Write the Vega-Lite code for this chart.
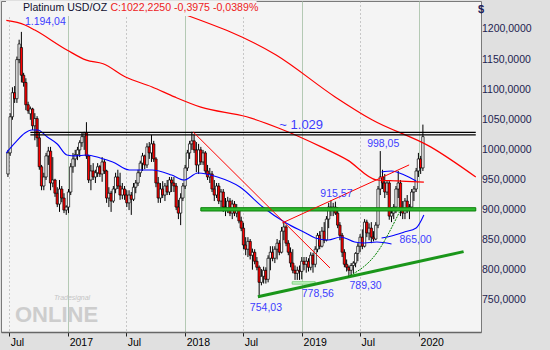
{
"$schema": "https://vega.github.io/schema/vega-lite/v6.json",
"width": 480, "height": 331,
"autosize": {"type": "none"},
"padding": {"left": 1, "top": 1, "right": 69, "bottom": 18},
"background": "#e0e0e0",
"config": {"view": {"fill": "#f4f4f4", "stroke": "#7a7a7a", "strokeWidth": 1}, "font": "Liberation Sans"},
"datasets": {
"candles": [
{"date":"2016-06-27","o":960,"h":1000,"l":955,"c":995},
{"date":"2016-07-04","o":995,"h":1061,"l":990,"c":1055},
{"date":"2016-07-11","o":1055,"h":1104,"l":1050,"c":1095},
{"date":"2016-07-18","o":1095,"h":1106,"l":1078,"c":1085},
{"date":"2016-07-25","o":1085,"h":1155,"l":1078,"c":1150},
{"date":"2016-08-01","o":1150,"h":1183,"l":1144,"c":1176},
{"date":"2016-08-08","o":1170,"h":1196,"l":1112,"c":1124},
{"date":"2016-08-15","o":1124,"h":1128,"l":1105,"c":1112},
{"date":"2016-08-22","o":1112,"h":1119,"l":1066,"c":1075},
{"date":"2016-08-29","o":1075,"h":1080,"l":1060,"c":1065},
{"date":"2016-09-05","o":1060,"h":1072,"l":1050,"c":1068},
{"date":"2016-09-12","o":1068,"h":1070,"l":1033,"c":1040},
{"date":"2016-09-19","o":1040,"h":1061,"l":1016,"c":1052},
{"date":"2016-09-26","o":1052,"h":1056,"l":1005,"c":1020},
{"date":"2016-10-03","o":1020,"h":1028,"l":967,"c":972},
{"date":"2016-10-10","o":972,"h":975,"l":933,"c":940},
{"date":"2016-10-17","o":940,"h":962,"l":933,"c":955},
{"date":"2016-10-24","o":955,"h":995,"l":950,"c":990},
{"date":"2016-10-31","o":990,"h":1005,"l":975,"c":998},
{"date":"2016-11-07","o":998,"h":1005,"l":933,"c":945},
{"date":"2016-11-14","o":945,"h":988,"l":938,"c":950},
{"date":"2016-11-21","o":950,"h":952,"l":922,"c":928},
{"date":"2016-11-28","o":928,"h":938,"l":905,"c":910},
{"date":"2016-12-05","o":910,"h":950,"l":897,"c":935},
{"date":"2016-12-12","o":935,"h":940,"l":913,"c":920},
{"date":"2016-12-19","o":920,"h":928,"l":895,"c":900},
{"date":"2016-12-26","o":900,"h":908,"l":892,"c":905},
{"date":"2017-01-02","o":905,"h":935,"l":895,"c":930},
{"date":"2017-01-09","o":930,"h":978,"l":925,"c":972},
{"date":"2017-01-16","o":972,"h":995,"l":962,"c":985},
{"date":"2017-01-23","o":985,"h":1000,"l":972,"c":992},
{"date":"2017-01-30","o":992,"h":1005,"l":983,"c":1000},
{"date":"2017-02-06","o":1000,"h":1016,"l":988,"c":1012},
{"date":"2017-02-13","o":1012,"h":1028,"l":1005,"c":1022},
{"date":"2017-02-20","o":1022,"h":1030,"l":1000,"c":1028},
{"date":"2017-02-27","o":1028,"h":1046,"l":985,"c":990},
{"date":"2017-03-06","o":990,"h":992,"l":945,"c":950},
{"date":"2017-03-13","o":950,"h":975,"l":933,"c":965},
{"date":"2017-03-20","o":965,"h":978,"l":950,"c":955},
{"date":"2017-03-27","o":955,"h":967,"l":945,"c":962},
{"date":"2017-04-03","o":962,"h":978,"l":955,"c":972},
{"date":"2017-04-10","o":972,"h":975,"l":955,"c":960},
{"date":"2017-04-17","o":960,"h":988,"l":947,"c":980},
{"date":"2017-04-24","o":980,"h":985,"l":960,"c":965},
{"date":"2017-05-01","o":965,"h":967,"l":912,"c":920},
{"date":"2017-05-08","o":920,"h":938,"l":905,"c":928},
{"date":"2017-05-15","o":928,"h":932,"l":897,"c":915},
{"date":"2017-05-22","o":915,"h":940,"l":912,"c":935},
{"date":"2017-05-29","o":935,"h":962,"l":928,"c":955},
{"date":"2017-06-05","o":955,"h":967,"l":935,"c":940},
{"date":"2017-06-12","o":940,"h":962,"l":917,"c":925},
{"date":"2017-06-19","o":925,"h":945,"l":918,"c":935},
{"date":"2017-06-26","o":935,"h":940,"l":917,"c":925},
{"date":"2017-07-03","o":925,"h":933,"l":905,"c":912},
{"date":"2017-07-10","o":912,"h":933,"l":900,"c":925},
{"date":"2017-07-17","o":925,"h":930,"l":892,"c":918},
{"date":"2017-07-24","o":918,"h":945,"l":915,"c":938},
{"date":"2017-07-31","o":938,"h":950,"l":928,"c":945},
{"date":"2017-08-07","o":945,"h":967,"l":940,"c":962},
{"date":"2017-08-14","o":962,"h":982,"l":955,"c":978},
{"date":"2017-08-21","o":978,"h":995,"l":965,"c":990},
{"date":"2017-08-28","o":990,"h":992,"l":968,"c":975},
{"date":"2017-09-04","o":975,"h":1011,"l":970,"c":1005},
{"date":"2017-09-11","o":1005,"h":1013,"l":985,"c":995},
{"date":"2017-09-18","o":995,"h":1025,"l":980,"c":1010},
{"date":"2017-09-25","o":1010,"h":1015,"l":980,"c":985},
{"date":"2017-10-02","o":985,"h":988,"l":938,"c":945},
{"date":"2017-10-09","o":945,"h":955,"l":912,"c":920},
{"date":"2017-10-16","o":920,"h":945,"l":912,"c":935},
{"date":"2017-10-23","o":935,"h":948,"l":920,"c":925},
{"date":"2017-10-30","o":925,"h":945,"l":915,"c":940},
{"date":"2017-11-06","o":940,"h":950,"l":925,"c":930},
{"date":"2017-11-13","o":930,"h":955,"l":925,"c":950},
{"date":"2017-11-20","o":950,"h":955,"l":930,"c":945},
{"date":"2017-11-27","o":945,"h":955,"l":930,"c":940},
{"date":"2017-12-04","o":940,"h":945,"l":900,"c":905},
{"date":"2017-12-11","o":905,"h":917,"l":885,"c":895},
{"date":"2017-12-18","o":895,"h":928,"l":875,"c":920},
{"date":"2017-12-25","o":920,"h":945,"l":915,"c":940},
{"date":"2018-01-01","o":940,"h":975,"l":935,"c":970},
{"date":"2018-01-08","o":970,"h":1000,"l":965,"c":995},
{"date":"2018-01-15","o":995,"h":1015,"l":985,"c":1010},
{"date":"2018-01-22","o":1010,"h":1030,"l":1000,"c":1015},
{"date":"2018-01-29","o":1015,"h":1025,"l":995,"c":1000},
{"date":"2018-02-05","o":1000,"h":1013,"l":963,"c":975},
{"date":"2018-02-12","o":975,"h":1010,"l":960,"c":1000},
{"date":"2018-02-19","o":1000,"h":1005,"l":975,"c":980},
{"date":"2018-02-26","o":980,"h":1000,"l":975,"c":995},
{"date":"2018-03-05","o":995,"h":998,"l":960,"c":965},
{"date":"2018-03-12","o":965,"h":975,"l":950,"c":955},
{"date":"2018-03-19","o":955,"h":970,"l":945,"c":960},
{"date":"2018-03-26","o":960,"h":965,"l":930,"c":935},
{"date":"2018-04-02","o":935,"h":950,"l":915,"c":925},
{"date":"2018-04-09","o":925,"h":945,"l":920,"c":940},
{"date":"2018-04-16","o":940,"h":945,"l":910,"c":915},
{"date":"2018-04-23","o":915,"h":935,"l":905,"c":930},
{"date":"2018-04-30","o":930,"h":935,"l":897,"c":905},
{"date":"2018-05-07","o":905,"h":920,"l":890,"c":900},
{"date":"2018-05-14","o":900,"h":922,"l":895,"c":915},
{"date":"2018-05-21","o":915,"h":920,"l":890,"c":895},
{"date":"2018-05-28","o":895,"h":917,"l":885,"c":910},
{"date":"2018-06-04","o":910,"h":915,"l":890,"c":895},
{"date":"2018-06-11","o":895,"h":910,"l":888,"c":900},
{"date":"2018-06-18","o":900,"h":902,"l":878,"c":882},
{"date":"2018-06-25","o":882,"h":889,"l":865,"c":870},
{"date":"2018-07-02","o":870,"h":879,"l":835,"c":842},
{"date":"2018-07-09","o":842,"h":855,"l":825,"c":835},
{"date":"2018-07-16","o":835,"h":855,"l":822,"c":848},
{"date":"2018-07-23","o":848,"h":852,"l":818,"c":825},
{"date":"2018-07-30","o":825,"h":836,"l":801,"c":830},
{"date":"2018-08-06","o":830,"h":835,"l":810,"c":815},
{"date":"2018-08-13","o":815,"h":822,"l":800,"c":805},
{"date":"2018-08-20","o":805,"h":808,"l":754,"c":780},
{"date":"2018-08-27","o":780,"h":802,"l":775,"c":790},
{"date":"2018-09-03","o":790,"h":806,"l":778,"c":800},
{"date":"2018-09-10","o":800,"h":805,"l":778,"c":785},
{"date":"2018-09-17","o":785,"h":825,"l":780,"c":820},
{"date":"2018-09-24","o":820,"h":840,"l":800,"c":830},
{"date":"2018-10-01","o":830,"h":840,"l":815,"c":820},
{"date":"2018-10-08","o":820,"h":840,"l":812,"c":835},
{"date":"2018-10-15","o":835,"h":852,"l":818,"c":845},
{"date":"2018-10-22","o":845,"h":850,"l":825,"c":830},
{"date":"2018-10-29","o":830,"h":872,"l":828,"c":865},
{"date":"2018-11-05","o":865,"h":880,"l":850,"c":872},
{"date":"2018-11-12","o":872,"h":875,"l":840,"c":845},
{"date":"2018-11-19","o":845,"h":850,"l":825,"c":830},
{"date":"2018-11-26","o":830,"h":838,"l":805,"c":812},
{"date":"2018-12-03","o":812,"h":835,"l":795,"c":800},
{"date":"2018-12-10","o":800,"h":808,"l":784,"c":795},
{"date":"2018-12-17","o":795,"h":806,"l":784,"c":800},
{"date":"2018-12-24","o":800,"h":808,"l":784,"c":798},
{"date":"2018-12-31","o":798,"h":822,"l":785,"c":815},
{"date":"2019-01-07","o":815,"h":822,"l":800,"c":810},
{"date":"2019-01-14","o":810,"h":822,"l":796,"c":815},
{"date":"2019-01-21","o":815,"h":820,"l":798,"c":805},
{"date":"2019-01-28","o":805,"h":830,"l":800,"c":825},
{"date":"2019-02-04","o":825,"h":829,"l":796,"c":810},
{"date":"2019-02-11","o":810,"h":840,"l":805,"c":835},
{"date":"2019-02-18","o":835,"h":862,"l":830,"c":858},
{"date":"2019-02-25","o":858,"h":865,"l":835,"c":840},
{"date":"2019-03-04","o":840,"h":872,"l":838,"c":865},
{"date":"2019-03-11","o":865,"h":880,"l":845,"c":850},
{"date":"2019-03-18","o":850,"h":890,"l":848,"c":885},
{"date":"2019-03-25","o":885,"h":912,"l":870,"c":905},
{"date":"2019-04-01","o":905,"h":916,"l":890,"c":900},
{"date":"2019-04-08","o":900,"h":912,"l":890,"c":905},
{"date":"2019-04-15","o":905,"h":914,"l":892,"c":895},
{"date":"2019-04-22","o":895,"h":905,"l":870,"c":875},
{"date":"2019-04-29","o":875,"h":880,"l":850,"c":858},
{"date":"2019-05-06","o":858,"h":862,"l":822,"c":830},
{"date":"2019-05-13","o":830,"h":835,"l":805,"c":810},
{"date":"2019-05-20","o":810,"h":818,"l":798,"c":805},
{"date":"2019-05-27","o":805,"h":808,"l":789,"c":800},
{"date":"2019-06-03","o":800,"h":812,"l":790,"c":808},
{"date":"2019-06-10","o":808,"h":815,"l":795,"c":812},
{"date":"2019-06-17","o":812,"h":830,"l":805,"c":828},
{"date":"2019-06-24","o":828,"h":845,"l":815,"c":840},
{"date":"2019-07-01","o":840,"h":860,"l":830,"c":855},
{"date":"2019-07-08","o":855,"h":868,"l":835,"c":840},
{"date":"2019-07-15","o":840,"h":885,"l":838,"c":880},
{"date":"2019-07-22","o":880,"h":884,"l":855,"c":862},
{"date":"2019-07-29","o":862,"h":878,"l":850,"c":870},
{"date":"2019-08-05","o":870,"h":880,"l":845,"c":855},
{"date":"2019-08-12","o":855,"h":865,"l":848,"c":852},
{"date":"2019-08-19","o":852,"h":880,"l":850,"c":875},
{"date":"2019-08-26","o":875,"h":940,"l":870,"c":935},
{"date":"2019-09-02","o":935,"h":998,"l":925,"c":955},
{"date":"2019-09-09","o":955,"h":967,"l":935,"c":945},
{"date":"2019-09-16","o":945,"h":960,"l":920,"c":930},
{"date":"2019-09-23","o":930,"h":950,"l":925,"c":945},
{"date":"2019-09-30","o":945,"h":950,"l":884,"c":890},
{"date":"2019-10-07","o":890,"h":905,"l":880,"c":895},
{"date":"2019-10-14","o":895,"h":910,"l":885,"c":905},
{"date":"2019-10-21","o":905,"h":940,"l":895,"c":935},
{"date":"2019-10-28","o":935,"h":965,"l":920,"c":945},
{"date":"2019-11-04","o":945,"h":950,"l":890,"c":900},
{"date":"2019-11-11","o":900,"h":915,"l":885,"c":895},
{"date":"2019-11-18","o":895,"h":920,"l":885,"c":915},
{"date":"2019-11-25","o":915,"h":925,"l":895,"c":900},
{"date":"2019-12-02","o":900,"h":910,"l":885,"c":905},
{"date":"2019-12-09","o":905,"h":935,"l":900,"c":930},
{"date":"2019-12-16","o":930,"h":940,"l":915,"c":935},
{"date":"2019-12-23","o":935,"h":970,"l":930,"c":965},
{"date":"2019-12-30","o":965,"h":995,"l":955,"c":985},
{"date":"2020-01-06","o":985,"h":990,"l":960,"c":970},
{"date":"2020-01-13","o":970,"h":1042,"l":965,"c":1022}
],
"lines": [
{"s":"ma_red","date":"2016-06-22","v":1215},
{"s":"ma_red","date":"2016-08-19","v":1207.5},
{"s":"ma_red","date":"2016-09-19","v":1199},
{"s":"ma_red","date":"2016-12-28","v":1166},
{"s":"ma_red","date":"2017-02-27","v":1149},
{"s":"ma_red","date":"2017-04-20","v":1143},
{"s":"ma_red","date":"2017-06-29","v":1121},
{"s":"ma_red","date":"2017-09-20","v":1104.5},
{"s":"ma_red","date":"2017-11-29","v":1088},
{"s":"ma_red","date":"2018-02-19","v":1071},
{"s":"ma_red","date":"2018-07-12","v":1055},
{"s":"ma_red","date":"2018-10-21","v":1036},
{"s":"ma_red","date":"2019-03-02","v":1005},
{"s":"ma_red","date":"2019-05-23","v":983},
{"s":"ma_red","date":"2019-08-22","v":950},
{"s":"ma_red","date":"2019-10-23","v":948.5},
{"s":"ma_red","date":"2020-01-16","v":946.5},
{"s":"r2","date":"2018-01-04","v":1224},
{"s":"r2","date":"2018-10-12","v":1157.6},
{"s":"r2","date":"2019-04-14","v":1088},
{"s":"r2","date":"2019-08-07","v":1050},
{"s":"r2","date":"2020-02-06","v":1005},
{"s":"r2","date":"2020-06-26","v":955},
{"s":"ma_blue","date":"2016-06-22","v":995},
{"s":"ma_blue","date":"2016-07-19","v":1011.5},
{"s":"ma_blue","date":"2016-08-19","v":1028},
{"s":"ma_blue","date":"2016-09-09","v":1033},
{"s":"ma_blue","date":"2016-09-28","v":1033},
{"s":"ma_blue","date":"2016-10-28","v":1021.4},
{"s":"ma_blue","date":"2016-11-28","v":1009.8},
{"s":"ma_blue","date":"2016-12-28","v":991.5},
{"s":"ma_blue","date":"2017-01-24","v":990},
{"s":"ma_blue","date":"2017-02-27","v":991.5},
{"s":"ma_blue","date":"2017-04-11","v":986.6},
{"s":"ma_blue","date":"2017-05-20","v":980},
{"s":"ma_blue","date":"2017-07-11","v":966.6},
{"s":"ma_blue","date":"2017-09-20","v":966.6},
{"s":"ma_blue","date":"2017-11-20","v":958.3},
{"s":"ma_blue","date":"2017-12-29","v":950},
{"s":"ma_blue","date":"2018-02-10","v":961.6},
{"s":"ma_blue","date":"2018-04-12","v":955},
{"s":"ma_blue","date":"2018-06-21","v":938.4},
{"s":"ma_blue","date":"2018-08-31","v":905.2},
{"s":"ma_blue","date":"2018-11-12","v":878.6},
{"s":"ma_blue","date":"2019-01-12","v":862},
{"s":"ma_blue","date":"2019-02-11","v":853.7},
{"s":"ma_blue","date":"2019-03-23","v":850.4},
{"s":"ma_blue","date":"2019-05-02","v":855.4},
{"s":"ma_blue","date":"2019-06-14","v":847},
{"s":"ma_blue","date":"2019-07-14","v":845.4},
{"s":"ma_blue","date":"2019-08-22","v":847},
{"s":"ma_blue","date":"2019-10-07","v":843.7},
{"s":"b_lo","date":"2019-09-06","v":853.7},
{"s":"b_lo","date":"2019-10-07","v":857},
{"s":"b_lo","date":"2019-11-16","v":863.6},
{"s":"b_lo","date":"2019-12-23","v":870.3},
{"s":"b_lo","date":"2020-01-16","v":891.9},
{"s":"b_up","date":"2019-09-06","v":963.3},
{"s":"b_up","date":"2019-10-07","v":965},
{"s":"b_up","date":"2019-11-16","v":958.3},
{"s":"b_up","date":"2019-12-23","v":948.4},
{"s":"blk1","date":"2016-09-05","v":1029},
{"s":"blk1","date":"2020-06-26","v":1029},
{"s":"blk2","date":"2016-09-05","v":1024.8},
{"s":"blk2","date":"2020-06-26","v":1024.8},
{"s":"g_tr","date":"2018-08-16","v":756},
{"s":"g_tr","date":"2020-05-19","v":831},
{"s":"r_dn","date":"2018-01-26","v":1029.8},
{"s":"r_dn","date":"2019-03-29","v":803.9},
{"s":"r_up","date":"2018-10-31","v":878.6},
{"s":"r_up","date":"2019-12-01","v":975},
{"s":"g_thin","date":"2019-05-23","v":789},
{"s":"g_thin","date":"2019-08-22","v":828.8},
{"s":"g_thin","date":"2019-11-01","v":896.9}
],
"rects": [
{"s":"gband","date":"2018-02-19","date2":"2020-06-26","v1":898.5,"v2":904},
{"s":"lgband","date":"2018-12-01","date2":"2019-02-11","v1":777,"v2":781},
{"s":"titlebox","date":"2016-06-21","date2":"2018-08-12","v1":1222.4,"v2":1247.3}
],
"labels": [
{"t":"1.194,04","date":"2016-08-19","v":1212},
{"t":"998,05","date":"2019-07-23","v":1009.8},
{"t":"915,57","date":"2019-02-27","v":926.8},
{"t":"865,00","date":"2019-11-01","v":850.4},
{"t":"789,30","date":"2019-05-29","v":773.1},
{"t":"778,56","date":"2018-12-31","v":760.7},
{"t":"754,03","date":"2018-07-22","v":737.4}
],
"ylab": [
{"t":"1200,0000","date":"2020-06-26T17:00:00Z","v":1200},
{"t":"1150,0000","date":"2020-06-26T17:00:00Z","v":1150},
{"t":"1100,0000","date":"2020-06-26T17:00:00Z","v":1100},
{"t":"1050,0000","date":"2020-06-26T17:00:00Z","v":1050},
{"t":"1000,0000","date":"2020-06-26T17:00:00Z","v":1000},
{"t":"950,0000","date":"2020-06-26T17:00:00Z","v":950},
{"t":"900,0000","date":"2020-06-26T17:00:00Z","v":900},
{"t":"850,0000","date":"2020-06-26T17:00:00Z","v":850},
{"t":"800,0000","date":"2020-06-26T17:00:00Z","v":800},
{"t":"750,0000","date":"2020-06-26T17:00:00Z","v":750}
],
"ytitle": [{"t":"$","date":"2020-06-26T17:00:00Z","v":1232.4}],
"biglabel": [{"t":"~ 1.029","date":"2018-10-22","v":1041.4}],
"title1": [{"t":"Platinum USD/OZ","date":"2016-08-13","v":1235.7}],
"title2": [{"t":"C:1022,2250 -0,3975 -0,0389%","date":"2017-05-13","v":1235.7}],
"wm1": [{"t":"ONLINE","date":"2016-07-19","v":726}],
"wm2": [{"t":"Tradesignal","date":"2016-11-18","v":754}]
},
"encoding": {
"x": {"field": "date", "type": "temporal",
 "scale": {"type": "utc", "domain": [{"year":2016,"month":6,"date":21,"utc":true},{"year":2020,"month":6,"date":26,"hours":17,"utc":true}]},
 "axis": {"title": null,
  "values": [{"year":2016,"month":7,"date":1,"utc":true},{"year":2017,"month":1,"date":1,"utc":true},{"year":2017,"month":7,"date":1,"utc":true},{"year":2018,"month":1,"date":1,"utc":true},{"year":2018,"month":7,"date":1,"utc":true},{"year":2019,"month":1,"date":1,"utc":true},{"year":2019,"month":7,"date":1,"utc":true},{"year":2020,"month":1,"date":1,"utc":true}],
  "labelExpr": "utcmonth(datum.value) == 0 ? utcFormat(datum.value, '%Y') : 'Jul'",
  "grid": true,
  "gridColor": {"condition": {"test": "utcmonth(datum.value) == 0", "value": "#b4c9b4"}, "value": "#9a9a9a"},
  "gridDash": {"condition": {"test": "utcmonth(datum.value) == 0", "value": []}, "value": [1, 3]},
  "labelAlign": "left", "labelOffset": 1, "labelPadding": 1, "labelFontSize": 10.5, "labelColor": "#000000", "labelFont": "Liberation Sans",
  "tickColor": "#222222", "tickSize": 4, "domain": true, "domainColor": "#666666", "domainWidth": 1.5,
  "labelOverlap": false, "labelBound": false, "labelFlush": false}
}
},
"layer": [
{"data": {"name": "candles"}, "mark": {"type": "rule", "color": "#000000", "strokeWidth": 1},
 "encoding": {
  "y": {"field": "l", "type": "quantitative", "scale": {"domain": [697.5, 1247.3], "zero": false, "nice": false},
   "axis": {"orient": "right", "title": null, "labels": false,
    "values": [750,800,850,900,950,1000,1050,1100,1150,1200],
    "tickColor": "#000000", "tickSize": 4,
    "domain": true, "domainColor": "#000000",
    "grid": true,
    "gridColor": {"condition": {"test": "datum.value % 250 == 0", "value": "#b4c9b4"}, "value": "#9a9a9a"},
    "gridDash": {"condition": {"test": "datum.value % 250 == 0", "value": []}, "value": [1, 3]}}},
  "y2": {"field": "h"}}},
{"data": {"name": "candles"}, "mark": {"type": "bar", "size": 2.3, "stroke": "#000000", "strokeWidth": 0.7},
 "encoding": {
  "y": {"field": "o", "type": "quantitative", "scale": {"domain": [697.5, 1247.3], "zero": false, "nice": false}, "axis": null},
  "y2": {"field": "c"},
  "fill": {"condition": {"test": "datum.c < datum.o", "value": "#ff0000"}, "value": "#ffffff"}}},
{"data": {"name": "wm1"}, "mark": {"type": "text", "align": "left", "baseline": "middle", "fontSize": 22, "fontWeight": "bold", "color": "#cdcdcd"},
 "encoding": {"y": {"field": "v", "type": "quantitative", "scale": {"domain": [697.5, 1247.3], "zero": false, "nice": false}, "axis": null}, "text": {"field": "t"}}},
{"data": {"name": "wm2"}, "mark": {"type": "text", "align": "left", "baseline": "middle", "fontSize": 7, "fontStyle": "italic", "color": "#c4c4c4"},
 "encoding": {"y": {"field": "v", "type": "quantitative", "scale": {"domain": [697.5, 1247.3], "zero": false, "nice": false}, "axis": null}, "text": {"field": "t"}}},
{"data": {"name": "lines"}, "transform": [{"filter": "datum.s == 'ma_red' || datum.s == 'r2'"}], "mark": {"type": "line", "color": "#ff0000", "strokeWidth": 1.2, "interpolate": "monotone"},
 "encoding": {"y": {"field": "v", "type": "quantitative", "scale": {"domain": [697.5, 1247.3], "zero": false, "nice": false}, "axis": null}, "detail": {"field": "s"}}},
{"data": {"name": "lines"}, "transform": [{"filter": "datum.s == 'ma_blue' || datum.s == 'b_lo' || datum.s == 'b_up'"}], "mark": {"type": "line", "color": "#0000ff", "strokeWidth": 1.1, "interpolate": "monotone"},
 "encoding": {"y": {"field": "v", "type": "quantitative", "scale": {"domain": [697.5, 1247.3], "zero": false, "nice": false}, "axis": null}, "detail": {"field": "s"}}},
{"data": {"name": "lines"}, "transform": [{"filter": "datum.s == 'blk1' || datum.s == 'blk2'"}], "mark": {"type": "line", "color": "#000000", "strokeWidth": 1.2},
 "encoding": {"y": {"field": "v", "type": "quantitative", "scale": {"domain": [697.5, 1247.3], "zero": false, "nice": false}, "axis": null}, "detail": {"field": "s"}}},
{"data": {"name": "rects"}, "transform": [{"filter": "datum.s == 'gband'"}], "mark": {"type": "rect", "fill": "#2eb82e", "stroke": "#0a800a", "strokeWidth": 1},
 "encoding": {"x2": {"field": "date2"}, "y": {"field": "v1", "type": "quantitative", "scale": {"domain": [697.5, 1247.3], "zero": false, "nice": false}, "axis": null}, "y2": {"field": "v2"}}},
{"data": {"name": "rects"}, "transform": [{"filter": "datum.s == 'lgband'"}], "mark": {"type": "rect", "fill": "#c8f5c8", "stroke": "#6ccc6c", "strokeWidth": 0.8},
 "encoding": {"x2": {"field": "date2"}, "y": {"field": "v1", "type": "quantitative", "scale": {"domain": [697.5, 1247.3], "zero": false, "nice": false}, "axis": null}, "y2": {"field": "v2"}}},
{"data": {"name": "lines"}, "transform": [{"filter": "datum.s == 'g_tr'"}], "mark": {"type": "line", "color": "#1a961a", "strokeWidth": 3},
 "encoding": {"y": {"field": "v", "type": "quantitative", "scale": {"domain": [697.5, 1247.3], "zero": false, "nice": false}, "axis": null}, "detail": {"field": "s"}}},
{"data": {"name": "lines"}, "transform": [{"filter": "datum.s == 'r_dn' || datum.s == 'r_up'"}], "mark": {"type": "line", "color": "#ff0000", "strokeWidth": 1},
 "encoding": {"y": {"field": "v", "type": "quantitative", "scale": {"domain": [697.5, 1247.3], "zero": false, "nice": false}, "axis": null}, "detail": {"field": "s"}}},
{"data": {"name": "lines"}, "transform": [{"filter": "datum.s == 'g_thin'"}], "mark": {"type": "line", "color": "#008000", "strokeWidth": 1, "strokeDash": [2, 1], "interpolate": "monotone"},
 "encoding": {"y": {"field": "v", "type": "quantitative", "scale": {"domain": [697.5, 1247.3], "zero": false, "nice": false}, "axis": null}, "detail": {"field": "s"}}},
{"data": {"name": "rects"}, "transform": [{"filter": "datum.s == 'titlebox'"}], "mark": {"type": "rect", "fill": "#f4f4f4"},
 "encoding": {"x2": {"field": "date2"}, "y": {"field": "v1", "type": "quantitative", "scale": {"domain": [697.5, 1247.3], "zero": false, "nice": false}, "axis": null}, "y2": {"field": "v2"}}},
{"data": {"name": "title1"}, "mark": {"type": "text", "align": "left", "baseline": "middle", "fontSize": 10.6, "color": "#101030"},
 "encoding": {"y": {"field": "v", "type": "quantitative", "scale": {"domain": [697.5, 1247.3], "zero": false, "nice": false}, "axis": null}, "text": {"field": "t"}}},
{"data": {"name": "title2"}, "mark": {"type": "text", "align": "left", "baseline": "middle", "fontSize": 10.6, "color": "#ee2222"},
 "encoding": {"y": {"field": "v", "type": "quantitative", "scale": {"domain": [697.5, 1247.3], "zero": false, "nice": false}, "axis": null}, "text": {"field": "t"}}},
{"data": {"name": "labels"}, "mark": {"type": "text", "align": "left", "baseline": "middle", "fontSize": 10.5, "color": "#3c3cff"},
 "encoding": {"y": {"field": "v", "type": "quantitative", "scale": {"domain": [697.5, 1247.3], "zero": false, "nice": false}, "axis": null}, "text": {"field": "t"}}},
{"data": {"name": "biglabel"}, "mark": {"type": "text", "align": "left", "baseline": "middle", "fontSize": 13, "color": "#3c3cff"},
 "encoding": {"y": {"field": "v", "type": "quantitative", "scale": {"domain": [697.5, 1247.3], "zero": false, "nice": false}, "axis": null}, "text": {"field": "t"}}},
{"data": {"name": "ylab"}, "mark": {"type": "text", "align": "left", "baseline": "middle", "dx": 6, "fontSize": 10.5, "color": "#1e1e50", "clip": false},
 "encoding": {"y": {"field": "v", "type": "quantitative", "scale": {"domain": [697.5, 1247.3], "zero": false, "nice": false}, "axis": null}, "text": {"field": "t"}}},
{"data": {"name": "ytitle"}, "mark": {"type": "text", "align": "left", "baseline": "middle", "dx": 2, "fontSize": 11, "fontWeight": "bold", "color": "#20205a", "clip": false},
 "encoding": {"y": {"field": "v", "type": "quantitative", "scale": {"domain": [697.5, 1247.3], "zero": false, "nice": false}, "axis": null}, "text": {"field": "t"}}}
]
}
